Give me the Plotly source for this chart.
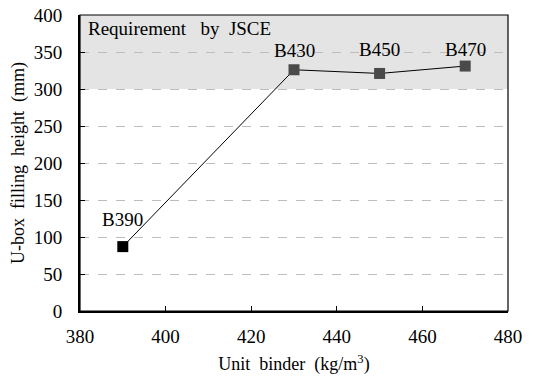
import plotly.graph_objects as go

binder = [390, 430, 450, 470]
height = [87, 326, 321, 331]
labels = ["B390", "B430", "B450", "B470"]
marker_colors = ["#000000", "#4a4a4a", "#4a4a4a", "#4a4a4a"]
label_lift = [27, 19, 24, 17]   # px above each marker (styling)
req_low, req_high = 300, 400

FONT = "Liberation Serif"
FS = 18
SP = "\u00a0\u00a0"

fig = go.Figure()
fig.add_shape(type="rect", xref="x", yref="y", x0=380, x1=480, y0=req_low, y1=req_high,
              fillcolor="#e4e4e4", line_width=0, layer="below")
fig.add_trace(go.Scatter(
    x=binder, y=height, mode="lines+markers",
    line=dict(color="#000000", width=1),
    marker=dict(symbol="square", size=11, color=marker_colors),
    showlegend=False, cliponaxis=False,
))
for xv, yv, lab, lift in zip(binder, height, labels, label_lift):
    fig.add_annotation(x=xv, y=yv, xref="x", yref="y", text=lab, showarrow=False,
                       xanchor="center", yanchor="middle", yshift=lift,
                       font=dict(family=FONT, size=19, color="#000"))
fig.add_annotation(x=380, y=400, xref="x", yref="y",
                   text="Requirement" + SP + "\u00a0by" + SP + "JSCE",
                   showarrow=False, xanchor="left", yanchor="top", xshift=6, yshift=-1,
                   font=dict(family=FONT, size=19, color="#000"))

fig.update_xaxes(range=[380, 480], dtick=20, showgrid=False, ticks="inside", ticklen=5,
                 tickcolor="#000", showline=True, linecolor="#000", linewidth=2, mirror=False,
                 zeroline=False, automargin=False, ticklabeloverflow="allow",
                 ticklabelstandoff=7,
                 tickfont=dict(family=FONT, size=19, color="#000"),
                 title=dict(text="Unit" + SP + "binder" + SP + "(kg/m<sup>3</sup>)",
                            font=dict(family=FONT, size=FS, color="#000"), standoff=12))
fig.update_yaxes(range=[0, 400], dtick=50, showgrid=True, gridcolor="#bdbdbd", griddash="dash",
                 gridwidth=1, ticks="inside", ticklen=5, tickcolor="#000", showline=True,
                 linecolor="#000", linewidth=2, zeroline=False, automargin=False,
                 ticklabeloverflow="allow", ticklabelstandoff=12,
                 tickfont=dict(family=FONT, size=19, color="#000"),
                 title=dict(text="U-box" + SP + "filling" + SP + "height" + SP + "(mm)",
                            font=dict(family=FONT, size=FS, color="#000"), standoff=8))
fig.add_shape(type="rect", xref="paper", yref="paper", x0=0, x1=1, y0=0, y1=1,
              line=dict(color="#000", width=1.2), fillcolor="rgba(0,0,0,0)", layer="above")

fig.update_layout(width=554, height=378, autosize=False, margin=dict(l=72, r=54, t=7, b=75),
                  font=dict(family=FONT),
                  plot_bgcolor="white", paper_bgcolor="white")
fig.write_html("out.html")
